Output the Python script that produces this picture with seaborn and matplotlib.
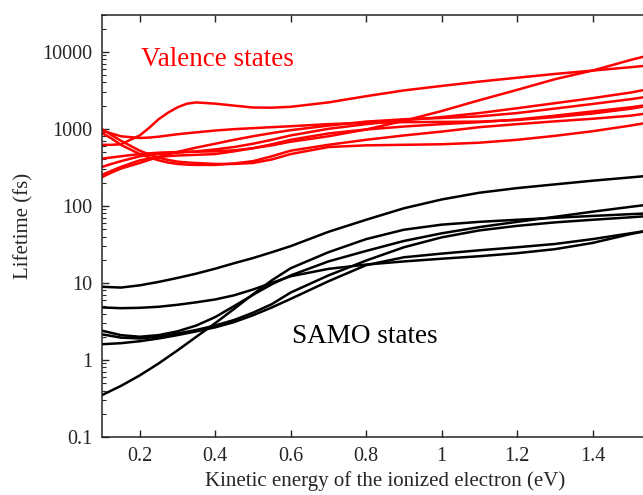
import numpy as np
import pandas as pd
import matplotlib
matplotlib.use("Agg")
import matplotlib.pyplot as plt
import matplotlib.ticker as mticker
import seaborn as sns

# ---------------- data ----------------
# SAMO (black) states
samo_x = [0.1, 0.15, 0.2, 0.25, 0.3, 0.35, 0.4, 0.45, 0.5, 0.55, 0.6, 0.7, 0.8, 0.9,
          1.0, 1.1, 1.2, 1.3, 1.4, 1.5, 1.55]
samo_1 = [8.9, 8.7, 9.3, 10.3, 11.6, 13.2, 15.3, 18.0, 21.0, 25.0, 30.0, 46.0, 66.0, 93.0,
          121.0, 148.0, 170.0, 190.0, 212.0, 234.0, 246.0]
samo_2 = [4.8, 4.7, 4.75, 4.9, 5.2, 5.6, 6.1, 6.9, 8.2, 10.0, 12.2, 15.2, 17.3, 19.0,
          20.6, 22.2, 24.3, 27.4, 33.0, 43.0, 48.0]
samo_3 = [0.35, 0.46, 0.63, 0.9, 1.33, 2.0, 3.0, 4.6, 7.1, 10.8, 15.5, 25.0, 37.0, 49.0,
          57.0, 62.0, 66.0, 70.0, 74.0, 78.0, 80.0]
samo_4 = [2.4, 2.1, 2.0, 2.1, 2.35, 2.8, 3.6, 5.0, 7.0, 9.6, 12.5, 19.0, 26.0, 35.0,
          44.0, 53.0, 62.0, 72.0, 84.0, 97.0, 104.0]
samo_5 = [2.15, 1.95, 1.9, 2.0, 2.2, 2.45, 2.8, 3.3, 4.1, 5.3, 7.5, 12.5, 19.5, 29.0,
          39.0, 48.0, 55.0, 61.0, 66.0, 71.0, 74.0]
samo_6 = [1.6, 1.65, 1.75, 1.9, 2.1, 2.35, 2.65, 3.1, 3.8, 4.8, 6.2, 10.5, 17.0, 21.5,
          24.0, 26.5, 29.0, 32.0, 37.0, 44.0, 48.0]

# Valence (red) states
val_x = [0.1, 0.125, 0.15, 0.2, 0.225, 0.25, 0.275, 0.3, 0.325, 0.35, 0.4, 0.45, 0.5,
         0.55, 0.6, 0.7, 0.8, 0.9, 1.0, 1.1, 1.2, 1.3, 1.4, 1.5, 1.55]
val_1 = [620, 620, 630, 820, 1030, 1330, 1620, 1900, 2120, 2200, 2120, 2000, 1890,
         1880, 1930, 2200, 2650, 3150, 3600, 4100, 4600, 5150, 5700, 6300, 6650]
val_2 = [950, 870, 800, 760, 770, 790, 820, 850, 875, 900, 950, 990, 1020,
         1050, 1080, 1150, 1200, 1220, 1230, 1240, 1300, 1420, 1580, 1820, 2000]
val_3 = [410, 425, 440, 470, 480, 490, 495, 500, 503, 505, 510, 525, 560,
         610, 680, 800, 980, 1270, 1700, 2350, 3200, 4400, 5700, 7800, 9000]
val_4 = [990, 830, 700, 520, 465, 420, 395, 375, 366, 360, 350, 350, 360,
         400, 470, 580, 610, 620, 630, 660, 720, 810, 930, 1100, 1210]
val_5 = [320, 350, 380, 440, 455, 470, 480, 490, 500, 510, 540, 580, 640,
         720, 820, 1000, 1150, 1290, 1420, 1600, 1850, 2150, 2500, 2950, 3280]
val_6 = [236, 270, 305, 360, 395, 430, 465, 500, 535, 570, 640, 720, 800,
         880, 960, 1100, 1240, 1330, 1380, 1450, 1600, 1830, 2100, 2420, 2630]
val_7 = [880, 750, 620, 470, 425, 390, 365, 350, 343, 340, 340, 355, 380,
         440, 520, 620, 720, 820, 920, 1050, 1150, 1250, 1350, 1480, 1600]
val_8 = [253, 285, 320, 390, 410, 430, 442, 450, 455, 460, 470, 510, 560,
         630, 720, 870, 980, 1070, 1150, 1220, 1320, 1480, 1680, 1900, 2050]

y_ticks = [0.1, 1, 10, 100, 1000, 10000]
y_tick_labels = ["0.1", "1", "10", "100", "1000", "10000"]
x_ticks = [0.2, 0.4, 0.6, 0.8, 1.0, 1.2, 1.4]
x_tick_labels = ["0.2", "0.4", "0.6", "0.8", "1", "1.2", "1.4"]

# ---------------- table ----------------
rows = []
for i, s in enumerate([samo_1, samo_2, samo_3, samo_4, samo_5, samo_6]):
    for xv, yv in zip(samo_x, s):
        rows.append(dict(x=xv, y=yv, kind="SAMO", curve=f"s{i}"))
for i, s in enumerate([val_1, val_2, val_3, val_4, val_5, val_6, val_7, val_8]):
    for xv, yv in zip(val_x, s):
        rows.append(dict(x=xv, y=yv, kind="Valence", curve=f"v{i}"))
df = pd.DataFrame(rows)

# ---------------- style ----------------
sns.set_style("ticks")
plt.rcParams["font.family"] = ["Liberation Serif", "DejaVu Serif"]

fig = plt.figure(figsize=(6.43, 4.95), dpi=100)
ax = fig.add_axes([102 / 643, 58 / 495, 566 / 643, 422 / 495])

sns.lineplot(data=df, x="x", y="y", hue="kind", units="curve", estimator=None,
             palette={"SAMO": "black", "Valence": "#ff0000"}, linewidth=1.8,
             legend=False, sort=False, ax=ax)

ax.set_yscale("log")
ax.set_xlim(0.1, 1.6)
ax.set_ylim(0.1, 3e4)
ax.set_yticks(y_ticks)
ax.set_yticklabels(y_tick_labels)
ax.yaxis.set_minor_locator(mticker.LogLocator(base=10, subs=np.arange(2, 10)))
ax.yaxis.set_minor_formatter(mticker.NullFormatter())
ax.set_xticks(x_ticks)
ax.set_xticklabels(x_tick_labels)

axis_col = "#262626"
for sp in ax.spines.values():
    sp.set_visible(True)
    sp.set_color(axis_col)
    sp.set_linewidth(1.1)
ax.tick_params(which="both", direction="in", top=True, right=True, colors=axis_col,
               labelcolor="#262626", labelsize=14.5)
ax.tick_params(which="major", length=5, width=1.0, pad=7)
ax.tick_params(which="minor", length=2.8, width=0.8)

ax.set_xlabel("Kinetic energy of the ionized electron (eV)", fontsize=15,
              color="#262626", labelpad=4)
ax.set_ylabel("Lifetime (fs)", fontsize=15, color="#262626", labelpad=6)

ax.text(0.203, 7870, "Valence states", color="#ff0000", fontsize=19.5,
        ha="left", va="center")
ax.text(0.603, 1.99, "SAMO states", color="black", fontsize=19.5,
        ha="left", va="center")

fig.savefig("out.png", dpi=100)
